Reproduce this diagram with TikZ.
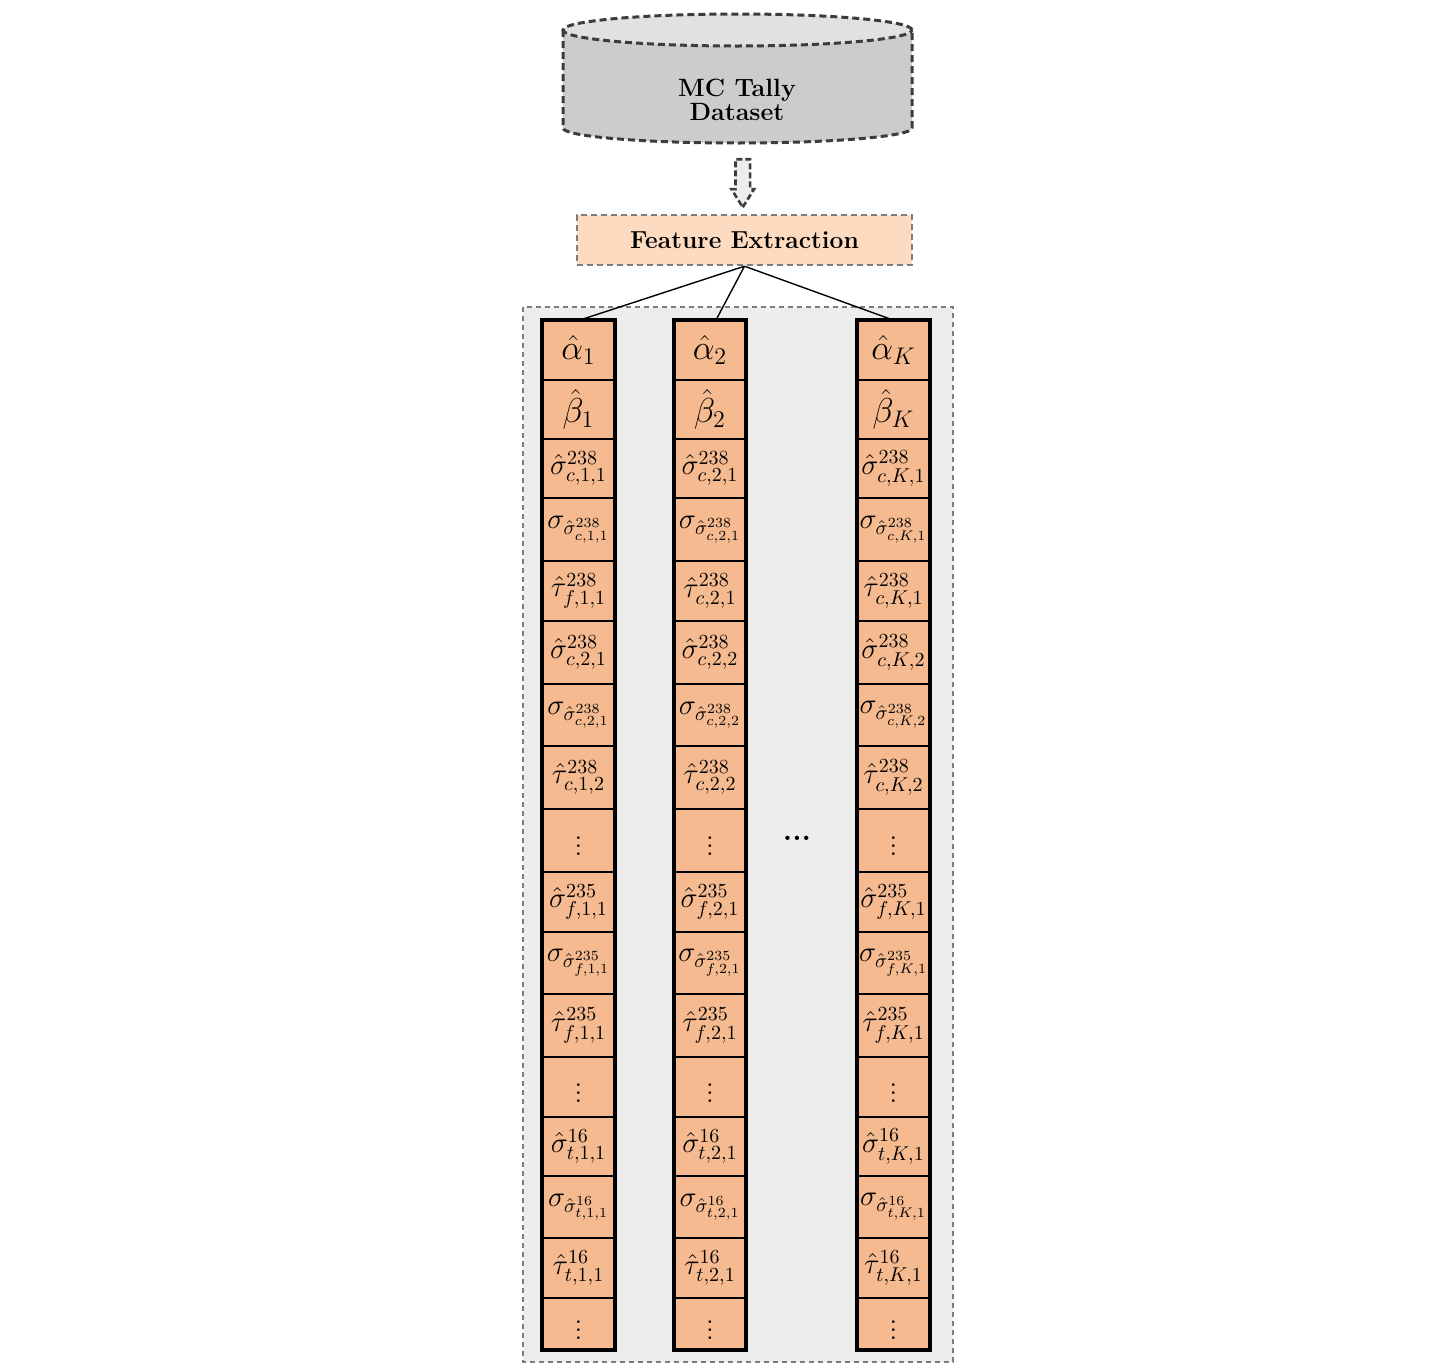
\documentclass[tikz,border=0pt]{standalone}
\usepackage{amsmath}
\usetikzlibrary{shapes.arrows,calc}
\definecolor{cellfill}{RGB}{245,186,143}
\definecolor{fefill}{RGB}{253,219,193}
\definecolor{bgfill}{RGB}{237,237,237}
\definecolor{cylbody}{RGB}{204,204,204}
\definecolor{cyltop}{RGB}{225,225,225}
\definecolor{darkdash}{RGB}{60,60,60}
\definecolor{lightdash}{RGB}{125,125,125}

\newcommand\cellmath[5]{\ifcase#1\or
 \hat\alpha_{#2}\or
 \hat\beta_{#2}\or
 \hat\sigma^{238}_{c,#2,1}\or
 \sigma_{\hat\sigma^{238}_{c,#2,1}}\or
 \hat\tau^{238}_{#3}\or
 \hat\sigma^{238}_{#4}\or
 \sigma_{\hat\sigma^{238}_{#4}}\or
 \hat\tau^{238}_{#5}\or
 \vdots\or
 \hat\sigma^{235}_{f,#2,1}\or
 \sigma_{\hat\sigma^{235}_{f,#2,1}}\or
 \hat\tau^{235}_{f,#2,1}\or
 \vdots\or
 \hat\sigma^{16}_{t,#2,1}\or
 \sigma_{\hat\sigma^{16}_{t,#2,1}}\or
 \hat\tau^{16}_{t,#2,1}\or
 \vdots\fi}

\tikzset{
 cellline/.style={draw=black, line width=0.75pt, fill=cellfill},
 colframe/.style={draw=black, line width=1.9pt},
 celltext/.style={inner sep=0pt, font=\fontsize{14}{16}\selectfont},
 cylstyle/.style={draw=darkdash, line width=1.5pt, dash pattern=on 3.5pt off 2pt},
 febox/.style={draw=lightdash, line width=1.2pt, dash pattern=on 3pt off 2pt, fill=fefill,
   minimum width=167.5pt, minimum height=25pt, inner sep=0pt,
   font=\bfseries\fontsize{12.3}{14}\selectfont},
 bgbox/.style={draw=lightdash, line width=1.4pt, dash pattern=on 2.5pt off 2pt, fill=bgfill},
 hollowarrow/.style={single arrow, draw=darkdash, fill=bgfill, line width=1.3pt,
   dash pattern=on 3pt off 1.5pt, minimum height=24pt, minimum width=10pt,
   single arrow head extend=2pt, single arrow tip angle=64, inner sep=3pt,
   shape border rotate=270},
 link/.style={draw=black, line width=0.7pt}
}

\newcommand\featcol[7]{%
 \foreach \ri/\yt/\yb in {1/320/380, 2/380/439, 3/439/498, 4/498/561, 5/561/621,
   6/621/684, 7/684/746, 8/746/809, 9/809/872, 10/872/932, 11/932/994,
   12/994/1057, 13/1057/1117, 14/1117/1176, 15/1176/1238, 16/1238/1298, 17/1298/1350}{
   \draw[cellline] (#2,\yt) rectangle (#3,\yb);
   \node[celltext] (#1r\ri) at ({(#2+#3)/2},{(\yt+\yb)/2})
     {\ifnum\ri<3 \fontsize{17}{20}\selectfont\fi$\cellmath{\ri}{#4}{#5}{#6}{#7}$};
 }
 \draw[colframe] (#2,320) rectangle (#3,1350);
}

\begin{document}
\begin{tikzpicture}[x=0.5pt, y=-0.5pt]
\useasboundingbox (0,0) rectangle (1437,1371);

% database cylinder
\draw[cylstyle, fill=cylbody] (563,30) -- (563,128)
  arc[start angle=180, end angle=360, x radius=87.25pt, y radius=7.5pt] -- (912,30);
\draw[cylstyle, fill=cyltop] (737.5,30) ellipse [x radius=87.25pt, y radius=8pt];
\node[align=center, font=\bfseries\fontsize{12.5}{12}\selectfont, inner sep=0pt] (db) at (737,100) {MC Tally\\Dataset};
\coordinate (dbbot) at (741,145);

% feature extraction
\node[febox] (fe) at (744.5,240) {Feature Extraction};

% hollow arrow
\node[hollowarrow] (arr) at ($(dbbot)!0.5!(fe.north)+(0,-2)$) {};

% background
\draw[bgbox] (523,307) rectangle (953,1362);

% columns
\featcol{ca}{542}{615}{1}{f,1,1}{c,2,1}{c,1,2}
\featcol{cb}{674}{746}{2}{c,2,1}{c,2,2}{c,2,2}
\featcol{ck}{857}{930}{K}{c,K,1}{c,K,2}{c,K,2}

\coordinate (catop) at (580,320);
\coordinate (cbtop) at (716,320);
\coordinate (cktop) at (893,320);

\draw[link] (fe.south) -- (catop);
\draw[link] (fe.south) -- (cbtop);
\draw[link] (fe.south) -- (cktop);

\node[font=\bfseries\fontsize{15}{18}\selectfont, inner sep=0pt] (dots) at (797,838) {...};
\end{tikzpicture}
\end{document}
